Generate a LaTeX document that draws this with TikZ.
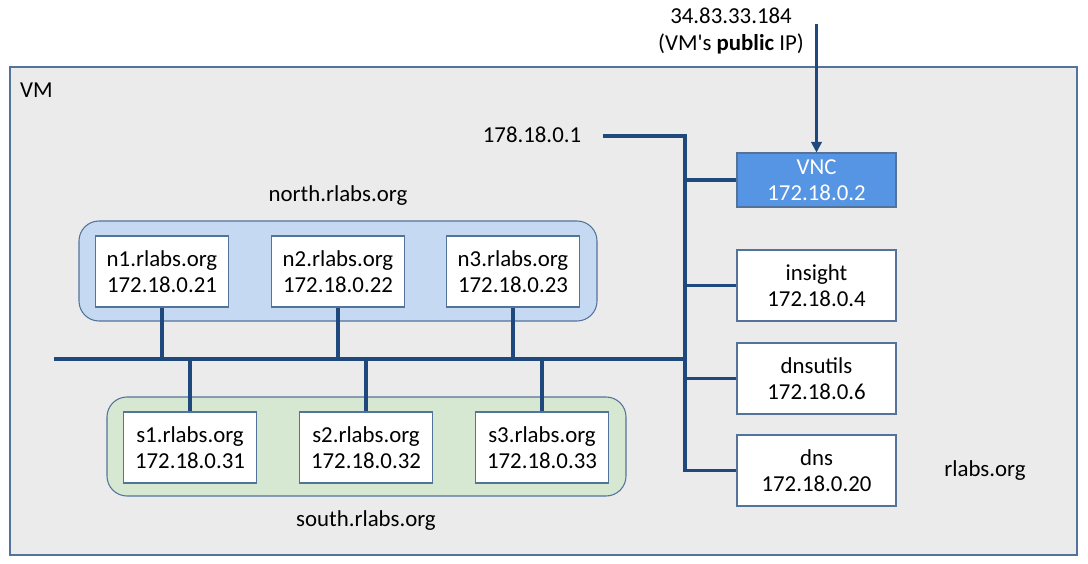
\documentclass[tikz,border=0pt]{standalone}
\usepackage{fontspec}
\setmainfont{Carlito}
\usetikzlibrary{arrows.meta}
\definecolor{wire}{RGB}{31,73,125}
\definecolor{edge}{RGB}{84,115,155}
\definecolor{vmfill}{RGB}{235,235,235}
\definecolor{northfill}{RGB}{197,217,242}
\definecolor{southfill}{RGB}{214,232,209}
\definecolor{vncfill}{RGB}{86,149,227}

\begin{document}
\begin{tikzpicture}[x=0.02cm,y=-0.02cm,
    every node/.style={font=\fontsize{13}{15}\selectfont},
    hostnode/.style={rectangle, draw=edge, fill=white, line width=0.6pt, minimum width=2.66cm, minimum height=1.42cm, align=center, inner sep=1pt},
    sidenode/.style={hostnode, minimum width=3.18cm},
    groupbox/.style={draw=edge, line width=0.6pt, rounded corners=0.4cm},
    wireline/.style={draw=wire, line width=1.8pt},
    ]
    \useasboundingbox (0,0) rectangle (1088,564);

    % the VM
    \draw[draw=edge, fill=vmfill, line width=0.6pt] (10,67) rectangle (1077,555);
    \node[anchor=west] (vm) at (14,90) {VM};
    \node (rlabs) at (985,471) {rlabs.org};
    \node[align=center] (pubip) at (731,31) {34.83.33.184\\(VM\textquotesingle s \textbf{public} IP)};

    % the two networks
    \draw[groupbox, fill=northfill] (79,221) rectangle (597,321);
    \draw[groupbox, fill=southfill] (107,397) rectangle (626,496);
    \node (northlbl) at (338,196) {north.rlabs.org};
    \node (southlbl) at (366,521) {south.rlabs.org};

    \node [hostnode] (n1) at (162,271.5) {n1.rlabs.org\\172.18.0.21};
    \node [hostnode] (n2) at (338,271.5) {n2.rlabs.org\\172.18.0.22};
    \node [hostnode] (n3) at (513,271.5) {n3.rlabs.org\\172.18.0.23};

    \node [hostnode] (s1) at (190,447.5) {s1.rlabs.org\\172.18.0.31};
    \node [hostnode] (s2) at (366,447.5) {s2.rlabs.org\\172.18.0.32};
    \node [hostnode] (s3) at (542,447.5) {s3.rlabs.org\\172.18.0.33};

    % services
    \node [sidenode, fill=vncfill, text=white, minimum height=1.08cm] (vnc) at (816.5,180) {VNC\\172.18.0.2};
    \node [sidenode] (insight) at (816.5,285.5) {insight\\172.18.0.4};
    \node [sidenode] (dnsutils) at (816.5,378.5) {dnsutils\\172.18.0.6};
    \node [sidenode] (dns) at (816.5,470.5) {dns\\172.18.0.20};

    % wiring
    \node (gwlbl) at (532,135) {178.18.0.1};
    \coordinate (gw) at (603,136);
    \coordinate (hub) at (685,136);
    \coordinate (busl) at (54,359);
    \coordinate (pub) at (816.5,24);

    \draw[wireline] (gw) -- (hub) |- (dns.west);
    \draw[wireline] (hub |- vnc.west) -- (vnc.west);
    \draw[wireline] (hub |- insight.west) -- (insight.west);
    \draw[wireline] (hub |- dnsutils.west) -- (dnsutils.west);
    \draw[wireline] (busl) -- (hub |- busl);
    \foreach \h in {n1,n2,n3}
      \draw[wireline] (\h.south) -- (\h.south |- busl);
    \foreach \h in {s1,s2,s3}
      \draw[wireline] (\h.north) -- (\h.north |- busl);
    \draw[draw=wire, line width=1.2pt, -{Triangle[length=6pt,width=6pt]}] (pub) -- (vnc.north);
\end{tikzpicture}
\end{document}
